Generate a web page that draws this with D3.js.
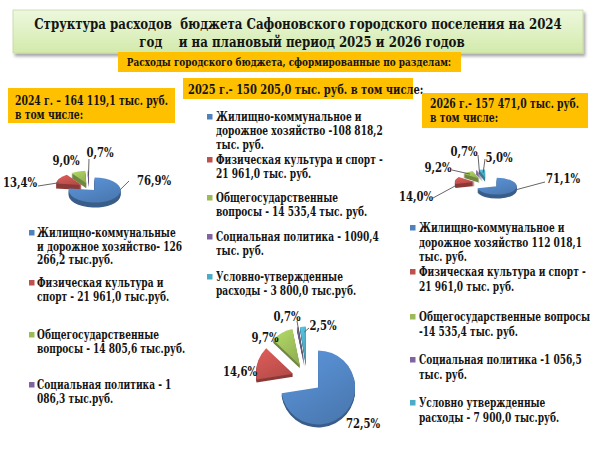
<!DOCTYPE html>
<html><head><meta charset="utf-8">
<script src="https://cdn.jsdelivr.net/npm/d3@7/dist/d3.min.js"></script>
<style>
body{margin:0;background:#fff}
svg{display:block}
text{font-family:"DejaVu Serif Condensed","DejaVu Serif",serif;font-stretch:condensed;font-weight:bold;fill:#141414}
</style>
</head><body>
<svg id="chart" width="600" height="450"></svg>
<script>
// ---------- data ----------
const title = ["Структура расходов  бюджета Сафоновского городского поселения на 2024",
               "год    и на плановый период 2025 и 2026 годов"];
const subtitle = "Расходы городского бюджета, сформированные по разделам:";
const categories = ["Жилищно-коммунальное и дорожное хозяйство", "Физическая культура и спорт",
                    "Общегосударственные вопросы", "Социальная политика", "Условно-утвержденные расходы"];
const header2024 = ["2024 г. – 164 119,1 тыс. руб.", "в том числе:"];
const header2025 = ["2025 г.- 150 205,0 тыс. руб. в том числе:"];
const header2026 = ["2026 г.- 157 471,0 тыс. руб.", "в том числе:"];
const values2024 = [126266.2, 21961.0, 14805.6, 1086.3];
const values2025 = [108818.2, 21961.0, 14535.4, 1090.4, 3800.0];
const values2026 = [112018.1, 21961.0, 14535.4, 1056.5, 7900.0];
const pct2024 = ["76,9%", "13,4%", "9,0%", "0,7%"];
const pct2025 = ["72,5%", "14,6%", "9,7%", "0,7%", "2,5%"];
const pct2026 = ["71,1%", "14,0%", "9,2%", "0,7%", "5,0%"];
const legend2024 = [["Жилищно-коммунальные", "и дорожное хозяйство- 126", "266,2 тыс.руб."],
                    ["Физическая культура и", "спорт - 21 961,0 тыс.руб."],
                    ["Общегосударственные", "вопросы - 14 805,6 тыс.руб."],
                    ["Социальная политика - 1", "086,3 тыс.руб."]];
const legend2025 = [["Жилищно-коммунальное и", "дорожное хозяйство -108 818,2", "тыс. руб."],
                    ["Физическая культура и спорт -", "21 961,0 тыс. руб."],
                    ["Общегосударственные", "вопросы - 14 535,4 тыс. руб."],
                    ["Социальная политика - 1090,4", "тыс. руб."],
                    ["Условно-утвержденные", "расходы - 3 800,0 тыс.руб."]];
const legend2026 = [["Жилищно-коммунальное и", "дорожное хозяйство 112 018,1", "тыс. руб."],
                    ["Физическая культура и спорт -", "21 961,0 тыс. руб."],
                    ["Общегосударственные вопросы", "-14 535,4 тыс. руб."],
                    ["Социальная политика -1 056,5", "тыс. руб."],
                    ["Условно утвержденные", "расходы - 7 900,0 тыс.руб."]];

// ---------- styles / layout ----------
const colors = d3.scaleOrdinal().domain(categories)
  .range(["#4f81bd", "#c0504d", "#9bbb59", "#8064a2", "#4bacc6"]);

const svg = d3.select("#chart");
const defs = svg.append("defs");
const sh = defs.append("filter").attr("id", "shadow").attr("x", "-5%").attr("y", "-20%").attr("width", "110%").attr("height", "150%");
sh.append("feDropShadow").attr("dx", 2).attr("dy", 3).attr("stdDeviation", 1.5).attr("flood-color", "#000").attr("flood-opacity", 0.35);
const tg = defs.append("linearGradient").attr("id", "titleGrad").attr("x1", 0).attr("y1", 0).attr("x2", 0).attr("y2", 1);
tg.append("stop").attr("offset", "0%").attr("stop-color", "#eef8de");
tg.append("stop").attr("offset", "100%").attr("stop-color", "#d2eaab");
categories.forEach((c, i) => {
  const g = defs.append("linearGradient").attr("id", "sg" + i).attr("x1", 0).attr("y1", 0).attr("x2", 0.6).attr("y2", 1);
  g.append("stop").attr("offset", "0%").attr("stop-color", d3.color(colors(c)).brighter(0.45));
  g.append("stop").attr("offset", "100%").attr("stop-color", d3.color(colors(c)).darker(0.15));
});

function txt(x, y, s, size, sx, anchor) {
  return svg.append("text").attr("transform", `translate(${x},${y}) scale(${sx},1)`)
    .attr("text-anchor", anchor || "start").attr("font-size", size).attr("xml:space", "preserve").text(s);
}

// title
svg.append("rect").attr("x", 13).attr("y", 10).attr("width", 570).attr("height", 43)
  .attr("fill", "url(#titleGrad)").attr("stroke", "#c3d8a0").attr("stroke-width", 0.8).attr("filter", "url(#shadow)");
txt(298, 29, title[0], 15, 0.875, "middle");
txt(302, 47, title[1], 15, 0.875, "middle");
// subtitle
svg.append("rect").attr("x", 118).attr("y", 52).attr("width", 343).attr("height", 20).attr("fill", "#ffc000");
txt(289, 65.5, subtitle, 11.5, 0.86, "middle");

// header boxes
function header(lines, box, tx, ys, size, sx) {
  svg.append("rect").attr("x", box[0]).attr("y", box[1]).attr("width", box[2]).attr("height", box[3]).attr("fill", "#ffc000");
  lines.forEach((l, i) => txt(tx, ys[i], l, size, sx));
}
header(header2024, [8, 88, 167, 35], 15, [105, 118.5], 12, 0.86);
header(header2025, [183, 78, 230, 21], 188, [93.5], 12, 0.92);
header(header2026, [422, 93, 166, 35], 430, [108, 121.5], 12, 0.86);

// legends
function legend(items, sqX, txtX, centers, lh) {
  items.forEach((lines, i) => {
    svg.append("rect").attr("x", sqX).attr("y", centers[i] - 3).attr("width", 5.5).attr("height", 5.5)
      .attr("fill", colors(categories[i]));
    lines.forEach((l, j) => txt(txtX, centers[i] + 4 + j * lh, l, 12, 0.84));
  });
}
legend(legend2024, 29, 37, [233, 283, 335, 385], 13.5);
legend(legend2025, 207, 216, [117, 160, 198, 237, 277], 13.8);
legend(legend2026, 410, 419, [228, 272, 317, 360, 403], 14.5);

// pies
const pie = d3.pie().sort(null).startAngle(0).endAngle(2 * Math.PI);
function drawPie(values, labels, cfg) {
  const arcs = pie(values);
  const arc = d3.arc().innerRadius(0).outerRadius(cfg.r);
  const g = svg.append("g");
  const off = d => {
    const m = (d.startAngle + d.endAngle) / 2;
    return [cfg.e * Math.sin(m), -cfg.e * Math.cos(m)];
  };
  const place = (d, dy) => {
    const o = off(d);
    return `translate(${cfg.cx + o[0]},${cfg.cy + dy + o[1] * cfg.sy}) scale(1,${cfg.sy})`;
  };
  for (let k = cfg.depth; k >= 1; k--) {
    g.selectAll(null).data(arcs).join("path")
      .attr("d", arc).attr("transform", d => place(d, k))
      .attr("fill", (d, i) => d3.color(colors(categories[i])).darker(0.9));
  }
  g.selectAll(null).data(arcs).join("path")
    .attr("d", arc).attr("transform", d => place(d, 0))
    .attr("fill", (d, i) => `url(#sg${i})`);
  const pt = (d, t, f) => {
    const a = d.startAngle + t * (d.endAngle - d.startAngle);
    const o = off(d);
    return [cfg.cx + o[0] + f * cfg.r * Math.sin(a), cfg.cy + (o[1] - f * cfg.r * Math.cos(a)) * cfg.sy + (f >= 1 ? cfg.depth / 2 : 0)];
  };
  cfg.leaders.forEach(ld => {
    if (!ld) return;
    const [i, t, f, x2, y2] = ld;
    const p = pt(arcs[i], t, f);
    g.append("line").attr("x1", p[0]).attr("y1", p[1]).attr("x2", x2).attr("y2", y2)
      .attr("stroke", "#555").attr("stroke-width", 0.9);
  });
  labels.forEach((l, i) => txt(cfg.labels[i][0], cfg.labels[i][1] + 4.5, l, 12.5, 0.9, "middle"));
}

drawPie(values2024, pct2024, {
  cx: 89, cy: 187, r: 26, sy: 0.48, e: 8.5, depth: 5,
  labels: [[154, 180], [20, 182], [66, 160], [100, 152]],
  leaders: [[0, 0.28, 1, 129, 181], [1, 0.08, 0.9, 38, 186], null, [3, 0.5, 0.6, 89, 159]]
});
drawPie(values2025, pct2025, {
  cx: 307, cy: 378, r: 37, sy: 1, e: 14.6, depth: 3,
  labels: [[363, 423], [240, 371], [265, 337], [287, 316], [323, 325]],
  leaders: [null, null, [2, 0.1, 0.92, 278, 340], [3, 0.5, 0.2, 297, 321], [4, 0.7, 0.85, 309, 328]]
});
drawPie(values2026, pct2026, {
  cx: 487, cy: 183, r: 20, sy: 0.42, e: 12.4, depth: 4,
  labels: [[563, 178], [416, 196], [438, 167], [464, 151], [499, 157]],
  leaders: [[0, 0.39, 1, 545, 182], [1, 0.02, 1, 433, 198], [2, 0.41, 0.74, 452, 170], [3, 0.5, 0.5, 478, 155], [4, 0.5, 0.6, 485, 159]]
});
</script>
</body></html>
